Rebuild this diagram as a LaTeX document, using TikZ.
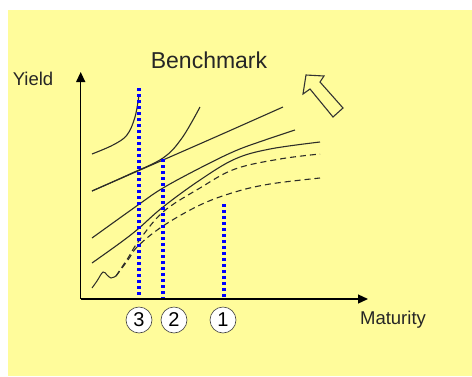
\documentclass[tikz,border=0pt]{standalone}
\usepackage{fontspec}
\setmainfont{Liberation Sans}
\usetikzlibrary{arrows.meta}
\definecolor{bgyellow}{RGB}{255,252,155}
\definecolor{curvegray}{RGB}{45,45,40}
\definecolor{dotblue}{RGB}{0,0,255}
\tikzset{
  axisline/.style={line width=1.3pt, black, -{Triangle[length=10pt,width=9pt]}},
  curve/.style={line width=1.1pt, curvegray},
  dcurve/.style={line width=1.1pt, curvegray, dash pattern=on 6pt off 4pt},
  bluedots/.style={line width=3.2pt, dotblue, dash pattern=on 3pt off 3pt},
  numcircle/.style={circle, draw=black!75, line width=0.6pt, fill=white, minimum size=26pt, inner sep=0pt, font=\fontsize{20}{20}\selectfont},
  label/.style={inner sep=0pt, font=\fontsize{18.5}{20}\selectfont, text=black!85},
  titlelabel/.style={inner sep=0pt, font=\fontsize{23}{25}\selectfont, text=black!85},
  hollowarrow/.style={line width=1.1pt, draw=black!80, fill=bgyellow, line join=miter}
}
\begin{document}
\begin{tikzpicture}[x=1pt,y=-1pt]
\useasboundingbox (0,0) rectangle (472,376);
\fill[white] (0,0) rectangle (472,376);
\fill[bgyellow] (8,10) rectangle (472,376);

% labels
\node[titlelabel] (bench) at (209,60) {Benchmark};
\node[label] (yield) at (33,79) {Yield};
\node[label] (mat) at (393,320) {Maturity};

% hollow block arrow
\draw[hollowarrow] (306,75) -- (324,76) -- (320,82) -- (343,108) -- (333,117) -- (310,89) -- (303,94) -- cycle;

% curves
\draw[curve] plot[smooth, tension=0.6] coordinates {(92,154) (113,145) (127,135) (135,117) (139,95)};
\draw[curve] plot[smooth, tension=0.6] coordinates {(92,191) (130,174) (163,158) (182,138) (200,107)};
\draw[curve] plot[smooth, tension=0.6] coordinates {(92,191) (163,160) (220,135) (283,107)};
\draw[curve] plot[smooth, tension=0.6] coordinates {(92,238) (138,205) (163,188) (200,168) (235,151) (265,140) (295,130)};
\draw[curve] plot[smooth, tension=0.6] coordinates {(92,263) (120,243) (138,229) (163,207) (200,180) (235,159) (270,149) (320,142)};
\draw[curve, line width=1pt] plot[smooth, tension=0.6] coordinates {(92,288) (97,281) (103,272) (107,275) (111,278) (116,276)};
\draw[dcurve] plot[smooth, tension=0.6] coordinates {(116,276) (128,258) (138,242) (163,212) (200,188) (235,169) (280,159) (320,154)};
\draw[dcurve] plot[smooth, tension=0.6] coordinates {(116,276) (128,260) (138,246) (163,226) (200,205) (235,192) (270,184) (320,178)};

% blue dotted lines
\coordinate (t3) at (139,88);  \coordinate (b3) at (139,299);
\coordinate (t2) at (163,159); \coordinate (b2) at (163,299);
\coordinate (t1) at (224,204); \coordinate (b1) at (224,299);
\draw[bluedots] (t3) -- (b3);
\draw[bluedots] (t2) -- (b2);
\draw[bluedots] (t1) -- (b1);

% axes
\coordinate (O) at (80.7,299);
\coordinate (ytip) at (80.7,72);
\coordinate (xtip) at (368,299);
\draw[axisline] (O) -- (ytip);
\draw[axisline] (O) -- (xtip);

% numbered circles
\node[numcircle] (c3) at (139,320) {3};
\node[numcircle] (c2) at (174,320) {2};
\node[numcircle] (c1) at (223,320) {1};
\end{tikzpicture}
\end{document}
